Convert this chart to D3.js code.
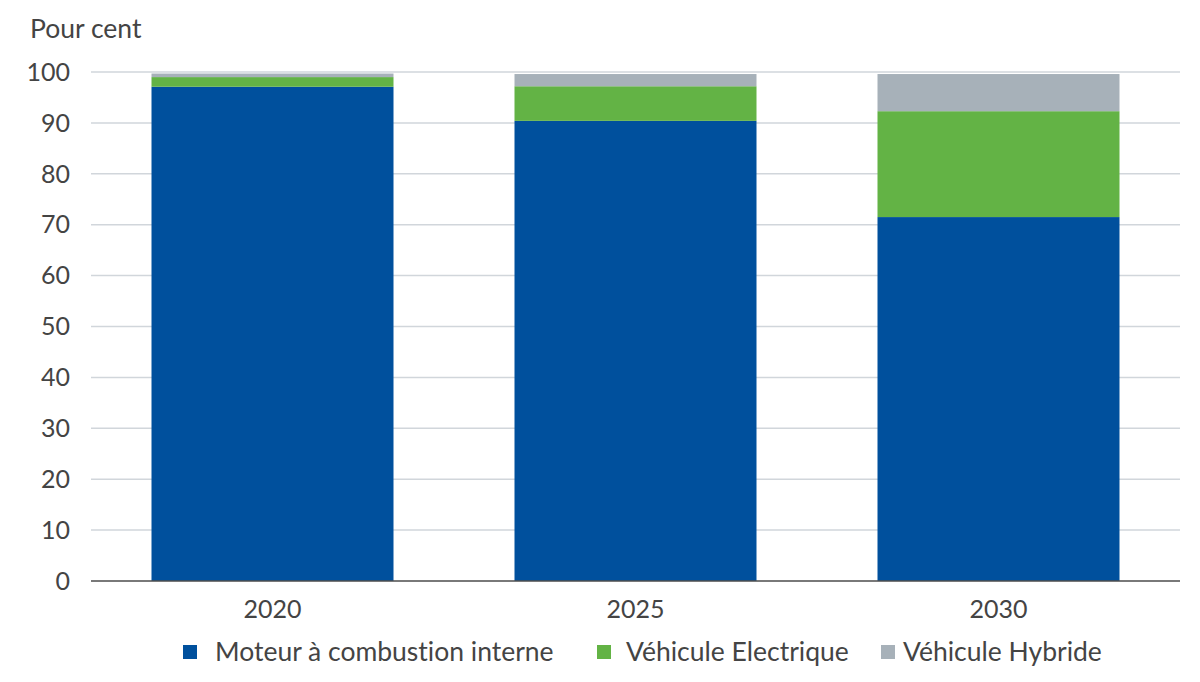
<!DOCTYPE html>
<html>
<head>
<meta charset="utf-8">
<script src="https://cdn.jsdelivr.net/npm/d3@7"></script>
<style>
  body { margin: 0; background: #fff; }
  svg { display: block; font-family: "Source Sans Pro", Lato, "Noto Sans", sans-serif; font-variant-ligatures: none; }
</style>
</head>
<body>
<svg id="chart" width="1200" height="682"></svg>
<script>
const years = ["2020", "2025", "2030"];
const seriesNames = ["Moteur à combustion interne", "Véhicule Electrique", "Véhicule Hybride"];
const ice = [97.1, 90.4, 71.5];
const electric = [1.9, 6.8, 20.8];
const hybrid = [0.7, 2.4, 7.3];
const yTicks = [0, 10, 20, 30, 40, 50, 60, 70, 80, 90, 100];
const colors = ["#00509d", "#63b345", "#a7b1b9"];

const svg = d3.select("#chart");
const margin = { top: 72, right: 20, bottom: 101, left: 91 };
const width = 1200 - margin.left - margin.right;
const height = 682 - margin.top - margin.bottom;

const rows = years.map((y, i) => ({ year: y, s0: ice[i], s1: electric[i], s2: hybrid[i] }));
const stack = d3.stack().keys(["s0", "s1", "s2"])(rows);

const x = d3.scaleBand().domain(years).range([0, width]).paddingInner(1 / 3).paddingOuter(1 / 6);
const y = d3.scaleLinear().domain([0, 100]).range([height, 0]);

const g = svg.append("g").attr("transform", `translate(${margin.left},${margin.top})`);

// gridlines
g.append("g")
  .selectAll("line")
  .data(yTicks.filter((d) => d > 0))
  .join("line")
  .attr("x1", 0)
  .attr("x2", width)
  .attr("y1", (d) => y(d))
  .attr("y2", (d) => y(d))
  .attr("stroke", "#d1d6db")
  .attr("stroke-width", 1.5);

// y tick labels
g.append("g")
  .selectAll("text")
  .data(yTicks)
  .join("text")
  .attr("x", -21)
  .attr("y", (d) => y(d))
  .attr("dy", "0.35em")
  .attr("text-anchor", "end")
  .attr("font-size", 25)
  .attr("fill", "#444")
  .text((d) => d);

svg.append("text")
  .attr("x", 30)
  .attr("y", 38)
  .attr("font-size", 26.5)
  .attr("fill", "#444")
  .text("Pour cent");

// bars
g.selectAll("g.layer")
  .data(stack)
  .join("g")
  .attr("class", "layer")
  .attr("fill", (d, i) => colors[i])
  .selectAll("rect")
  .data((d) => d)
  .join("rect")
  .attr("x", (d) => x(d.data.year))
  .attr("width", x.bandwidth())
  .attr("y", (d) => y(d[1]))
  .attr("height", (d) => y(d[0]) - y(d[1]));

// zero line
g.append("line")
  .attr("x1", 0)
  .attr("x2", width)
  .attr("y1", y(0))
  .attr("y2", y(0))
  .attr("stroke", "#4d4d4d")
  .attr("stroke-width", 1.5);

// x labels
g.append("g")
  .selectAll("text")
  .data(years)
  .join("text")
  .attr("x", (d) => x(d) + x.bandwidth() / 2)
  .attr("y", height + 37)
  .attr("text-anchor", "middle")
  .attr("font-size", 25)
  .attr("fill", "#444")
  .text((d) => d);

// legend
const legendX = [183, 597, 881];
const legendGap = [32, 29, 22];
const legend = svg.append("g")
  .selectAll("g")
  .data(seriesNames)
  .join("g")
  .attr("transform", (d, i) => `translate(${legendX[i]},652)`);

legend.append("rect")
  .attr("y", -7)
  .attr("width", 14)
  .attr("height", 14)
  .attr("fill", (d, i) => colors[i]);

legend.append("text")
  .attr("x", (d, i) => legendGap[i])
  .attr("dy", "0.35em")
  .attr("font-size", 26.5)
  .attr("fill", "#444")
  .text((d) => d);
</script>
</body>
</html>
